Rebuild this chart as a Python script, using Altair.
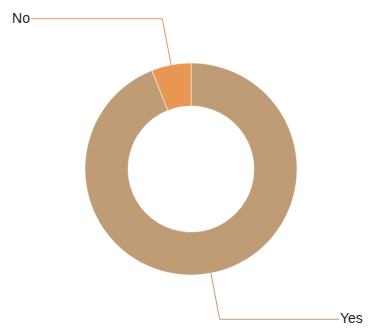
import altair as alt
import pandas as pd

categories = ["Yes", "No"]
values = [94, 6]
colors = ["#BF9C75", "#E89652"]

df = pd.DataFrame({"category": categories, "value": values, "rank": list(range(len(categories)))})

CX, CY = 183, 161
R_OUT, R_IN = 106, 63
R_ELBOW = 153
LEFT_END, RIGHT_END = 23, 331

color = alt.Color("category:N", scale=alt.Scale(domain=categories, range=colors), legend=None)

base = alt.Chart(df)

arc = base.mark_arc(innerRadius=R_IN, outerRadius=R_OUT, stroke="#ffffff", strokeWidth=0.5).encode(
    theta=alt.Theta("value:Q", stack=True),
    order=alt.Order("rank:Q"),
    color=color,
    x=alt.value(CX),
    y=alt.value(CY),
)

geo = base.transform_joinaggregate(total="sum(value)").transform_window(
    cum="sum(value)", sort=[alt.SortField("rank")], frame=[None, 0]
).transform_calculate(
    mid="(datum.cum - datum.value/2) / datum.total * 2 * PI",
).transform_calculate(
    x0=f"{CX} + {R_OUT} * sin(datum.mid)",
    y0=f"{CY} - {R_OUT} * cos(datum.mid)",
    x1=f"{CX} + {R_ELBOW} * sin(datum.mid)",
    y1=f"{CY} - {R_ELBOW} * cos(datum.mid)",
    x2=f"sin(datum.mid) < 0 ? {LEFT_END} : {RIGHT_END}",
    side="sin(datum.mid) < 0 ? 'left' : 'right'",
)

rule1 = geo.mark_rule(strokeWidth=1).encode(
    x=alt.X("x0:Q", scale=None), y=alt.Y("y0:Q", scale=None),
    x2="x1:Q", y2="y1:Q", color=color,
)
rule2 = geo.mark_rule(strokeWidth=1).encode(
    x=alt.X("x1:Q", scale=None), y=alt.Y("y1:Q", scale=None),
    x2="x2:Q", y2="y1:Q", color=color,
)
text_left = geo.transform_filter("datum.side == 'left'").mark_text(
    align="right", baseline="middle", dx=-1, fontSize=14, font="Liberation Sans", color="#222222"
).encode(x=alt.X("x2:Q", scale=None), y=alt.Y("y1:Q", scale=None), text="category:N")
text_right = geo.transform_filter("datum.side == 'right'").mark_text(
    align="left", baseline="middle", dx=1, fontSize=14, font="Liberation Sans", color="#222222"
).encode(x=alt.X("x2:Q", scale=None), y=alt.Y("y1:Q", scale=None), text="category:N")

chart = alt.layer(arc, rule1, rule2, text_left, text_right).properties(
    width=357, height=328, padding=0, autosize=alt.AutoSizeParams(type="none")
).configure_view(stroke=None)

chart.save("out.html", embed_options={"renderer": "svg", "actions": False})
